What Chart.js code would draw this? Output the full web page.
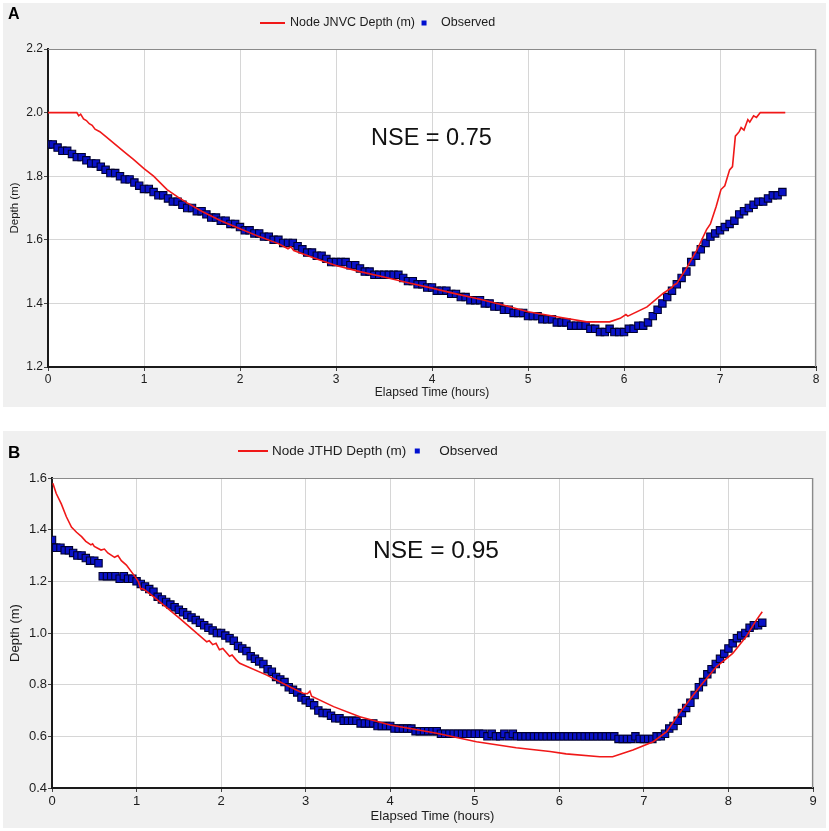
<!DOCTYPE html>
<html><head><meta charset="utf-8">
<script src="https://cdn.jsdelivr.net/npm/chart.js@4.4.1/dist/chart.umd.min.js"></script>
<style>
html,body{margin:0;padding:0;background:#fff;width:829px;height:831px;overflow:hidden}
.panel{position:absolute;left:3px;width:823px;background:#f0f0f0}
#pA{top:3px;height:404px}
#pB{top:431px;height:397px}
canvas{display:block}
</style></head><body>
<div class="panel" id="pA"><canvas id="cA" width="823" height="404" style="width:823px;height:404px"></canvas></div>
<div class="panel" id="pB"><canvas id="cB" width="823" height="397" style="width:823px;height:397px"></canvas></div>
<script>
// ---------- Panel A data ----------
const modelTimeA = [0,0.30,0.32,0.34,0.37,0.40,0.43,0.46,0.49,0.54,0.6,0.7,0.8,0.89,1.0,1.1,1.24,1.35,1.45,1.6,1.8,2.0,2.2,2.4,2.5,2.53,2.56,2.8,3.0,3.25,3.5,3.75,4.0,4.25,4.5,4.75,5.0,5.3,5.61,5.85,5.96,6.02,6.04,6.24,6.41,6.5,6.52,6.55,6.65,6.76,6.86,6.9,6.96,7.01,7.05,7.1,7.13,7.16,7.2,7.22,7.25,7.29,7.31,7.35,7.38,7.42,7.68];
const modelDepthA = [2.0,2.0,1.99,1.995,1.98,1.975,1.965,1.96,1.948,1.94,1.925,1.90,1.875,1.853,1.824,1.80,1.758,1.735,1.716,1.69,1.66,1.635,1.61,1.588,1.572,1.578,1.566,1.54,1.519,1.50,1.483,1.465,1.448,1.43,1.413,1.394,1.374,1.358,1.342,1.342,1.353,1.365,1.36,1.389,1.432,1.45,1.458,1.463,1.51,1.568,1.632,1.65,1.705,1.758,1.77,1.82,1.83,1.926,1.94,1.953,1.945,1.978,1.97,1.99,1.985,2.0,2.0];
const obsTimeA = [0,0.05,0.1,0.15,0.2,0.25,0.3,0.35,0.4,0.45,0.5,0.55,0.6,0.65,0.7,0.75,0.8,0.85,0.9,0.95,1.0,1.05,1.1,1.15,1.2,1.25,1.3,1.35,1.4,1.45,1.5,1.55,1.6,1.65,1.7,1.75,1.8,1.85,1.9,1.95,2.0,2.05,2.1,2.15,2.2,2.25,2.3,2.35,2.4,2.45,2.5,2.55,2.6,2.65,2.7,2.75,2.8,2.85,2.9,2.95,3.0,3.05,3.1,3.15,3.2,3.25,3.3,3.35,3.4,3.45,3.5,3.55,3.6,3.65,3.7,3.75,3.8,3.85,3.9,3.95,4.0,4.05,4.1,4.15,4.2,4.25,4.3,4.35,4.4,4.45,4.5,4.55,4.6,4.65,4.7,4.75,4.8,4.85,4.9,4.95,5.0,5.05,5.1,5.15,5.2,5.25,5.3,5.35,5.4,5.45,5.5,5.55,5.6,5.65,5.7,5.75,5.8,5.85,5.9,5.95,6.0,6.05,6.1,6.15,6.2,6.25,6.3,6.35,6.4,6.45,6.5,6.55,6.6,6.65,6.7,6.75,6.8,6.85,6.9,6.95,7.0,7.05,7.1,7.15,7.2,7.25,7.3,7.35,7.4,7.45,7.5,7.55,7.6,7.65];
const obsDepthA = [1.90,1.90,1.89,1.88,1.88,1.87,1.86,1.86,1.85,1.84,1.84,1.83,1.82,1.81,1.81,1.80,1.79,1.79,1.78,1.77,1.76,1.76,1.75,1.74,1.74,1.73,1.72,1.72,1.71,1.70,1.70,1.69,1.69,1.68,1.67,1.67,1.66,1.66,1.65,1.65,1.64,1.63,1.63,1.62,1.62,1.61,1.61,1.60,1.60,1.59,1.59,1.59,1.58,1.57,1.56,1.56,1.55,1.55,1.54,1.53,1.53,1.53,1.53,1.52,1.52,1.51,1.50,1.50,1.49,1.49,1.49,1.49,1.49,1.49,1.48,1.47,1.47,1.46,1.46,1.45,1.45,1.44,1.44,1.44,1.43,1.43,1.42,1.42,1.41,1.41,1.41,1.40,1.40,1.39,1.39,1.38,1.38,1.37,1.37,1.37,1.36,1.36,1.36,1.35,1.35,1.35,1.34,1.34,1.34,1.33,1.33,1.33,1.33,1.32,1.32,1.31,1.31,1.32,1.31,1.31,1.31,1.32,1.32,1.33,1.33,1.34,1.36,1.38,1.40,1.42,1.44,1.46,1.48,1.50,1.53,1.55,1.57,1.59,1.61,1.62,1.63,1.64,1.65,1.66,1.68,1.69,1.70,1.71,1.72,1.72,1.73,1.74,1.74,1.75];
const yTicksA = [1.2, 2.2];
// ---------- Panel B data ----------
const modelTimeB = [0.01,0.05,0.11,0.17,0.23,0.29,0.35,0.40,0.46,0.48,0.50,0.58,0.62,0.66,0.74,0.78,0.82,0.88,0.96,1.02,1.05,1.07,1.1,1.2,1.51,1.83,1.86,1.9,1.94,1.98,2.02,2.1,2.13,2.18,2.22,2.54,2.81,2.97,3.02,3.05,3.07,3.33,3.64,4.0,4.55,5.02,5.49,5.89,6.08,6.48,6.63,6.87,7.11,7.27,7.42,7.66,7.86,8.05,8.21,8.33,8.40];
const modelDepthB = [1.58,1.54,1.50,1.45,1.41,1.39,1.373,1.355,1.341,1.345,1.335,1.321,1.325,1.31,1.293,1.30,1.28,1.263,1.228,1.20,1.17,1.172,1.166,1.141,1.057,0.966,0.97,0.955,0.96,0.935,0.94,0.91,0.915,0.895,0.883,0.837,0.792,0.767,0.765,0.775,0.755,0.715,0.676,0.644,0.612,0.579,0.556,0.541,0.532,0.521,0.521,0.547,0.579,0.618,0.689,0.792,0.87,0.921,0.986,1.05,1.082];
const obsTimeB = [0,0.02,0.05,0.1,0.15,0.2,0.25,0.3,0.35,0.4,0.45,0.5,0.55,0.6,0.65,0.7,0.75,0.8,0.85,0.9,0.95,1.0,1.05,1.1,1.15,1.2,1.25,1.3,1.35,1.4,1.45,1.5,1.55,1.6,1.65,1.7,1.75,1.8,1.85,1.9,1.95,2.0,2.05,2.1,2.15,2.2,2.25,2.3,2.35,2.4,2.45,2.5,2.55,2.6,2.65,2.7,2.75,2.8,2.85,2.9,2.95,3.0,3.05,3.1,3.15,3.2,3.25,3.3,3.35,3.4,3.45,3.5,3.55,3.6,3.65,3.7,3.75,3.8,3.85,3.9,3.95,4.0,4.05,4.1,4.15,4.2,4.25,4.3,4.35,4.4,4.45,4.5,4.55,4.6,4.65,4.7,4.75,4.8,4.85,4.9,4.95,5.0,5.05,5.1,5.15,5.2,5.25,5.3,5.35,5.4,5.45,5.5,5.55,5.6,5.65,5.7,5.75,5.8,5.85,5.9,5.95,6.0,6.05,6.1,6.15,6.2,6.25,6.3,6.35,6.4,6.45,6.5,6.55,6.6,6.65,6.7,6.75,6.8,6.85,6.9,6.95,7.0,7.05,7.1,7.15,7.2,7.25,7.3,7.35,7.4,7.45,7.5,7.55,7.6,7.65,7.7,7.75,7.8,7.85,7.9,7.95,8.0,8.05,8.1,8.15,8.2,8.25,8.3,8.35,8.4];
const obsDepthB = [1.36,1.33,1.33,1.33,1.32,1.32,1.31,1.30,1.30,1.29,1.28,1.28,1.27,1.22,1.22,1.22,1.22,1.21,1.22,1.21,1.21,1.20,1.19,1.18,1.17,1.16,1.14,1.13,1.12,1.11,1.10,1.09,1.08,1.07,1.06,1.05,1.04,1.03,1.02,1.01,1.00,1.00,0.99,0.98,0.97,0.95,0.94,0.93,0.91,0.90,0.89,0.88,0.86,0.85,0.83,0.82,0.81,0.79,0.78,0.77,0.75,0.74,0.73,0.72,0.70,0.69,0.69,0.68,0.67,0.67,0.66,0.66,0.66,0.66,0.65,0.65,0.65,0.65,0.64,0.64,0.64,0.64,0.63,0.63,0.63,0.63,0.63,0.62,0.62,0.62,0.62,0.62,0.62,0.61,0.61,0.61,0.61,0.61,0.61,0.61,0.61,0.61,0.61,0.61,0.60,0.61,0.60,0.60,0.61,0.60,0.61,0.60,0.60,0.60,0.60,0.60,0.60,0.60,0.60,0.60,0.60,0.60,0.60,0.60,0.60,0.60,0.60,0.60,0.60,0.60,0.60,0.60,0.60,0.60,0.60,0.59,0.59,0.59,0.59,0.60,0.59,0.59,0.59,0.59,0.60,0.60,0.61,0.63,0.64,0.66,0.69,0.71,0.73,0.76,0.79,0.81,0.84,0.86,0.88,0.90,0.92,0.94,0.96,0.98,0.99,1.00,1.02,1.03,1.03,1.04];

const FONT = "'Liberation Sans', Arial, Helvetica, sans-serif";
const TXT = '#1c1c1c';

const decor = {
  id: 'decor',
  beforeDraw(chart) {
    const {ctx, chartArea: a} = chart;
    ctx.save();
    ctx.fillStyle = '#ffffff';
    ctx.fillRect(a.left, a.top, a.right - a.left, a.bottom - a.top);
    ctx.restore();
  },
  afterDraw(chart, args, o) {
    const {ctx, chartArea: a} = chart;
    ctx.save();
    // top / right frame
    ctx.strokeStyle = '#8a8a8a'; ctx.lineWidth = 1.2;
    ctx.beginPath();
    ctx.moveTo(a.left, a.top + 0.5); ctx.lineTo(a.right - 0.5, a.top + 0.5); ctx.lineTo(a.right - 0.5, a.bottom);
    ctx.stroke();
    // panel letter
    ctx.fillStyle = '#000'; ctx.font = o.letterFont; ctx.textBaseline = 'alphabetic'; ctx.textAlign = 'left';
    ctx.fillText(o.letter, o.letterX, o.letterY);
    // NSE annotation
    ctx.font = o.nseFont; ctx.fillStyle = '#111';
    ctx.fillText(o.nse, o.nseX, o.nseY);
    // legend
    const d0 = chart.data.datasets[0], d1 = chart.data.datasets[1];
    let x = o.legX; const y = o.legY;
    ctx.strokeStyle = d0.borderColor; ctx.lineWidth = 2;
    ctx.beginPath(); ctx.moveTo(x, y); ctx.lineTo(x + o.lineLen, y); ctx.stroke();
    x += o.lineLen + o.gap0;
    ctx.font = o.legFont; ctx.textBaseline = 'middle'; ctx.fillStyle = TXT;
    ctx.fillText(d0.label, x, y);
    x += ctx.measureText(d0.label).width + o.gap1;
    ctx.fillStyle = '#0010d0';
    ctx.fillRect(x - 2.5, y - 2.5, 5, 5);
    x += o.gap2;
    ctx.fillStyle = TXT;
    ctx.fillText(d1.label, x, y);
    ctx.restore();
  }
};

function build(id, p) {
  const model = p.modelT.map((t, i) => ({x: t, y: p.modelD[i]}));
  const obs = p.obsT.map((t, i) => ({x: t, y: p.obsD[i]}));
  const f = {family: FONT, size: p.fs};
  return new Chart(document.getElementById(id), {
    type: 'scatter',
    data: {datasets: [
      {label: p.modelLabel, data: model, showLine: true, borderColor: '#f01818', borderWidth: 1.6,
       pointRadius: 0, pointHoverRadius: 0, fill: false, order: 0},
      {label: 'Observed', data: obs, showLine: false, pointStyle: 'rect', pointRadius: 5.2, pointHoverRadius: 5.2,
       backgroundColor: '#0a12c8', borderColor: '#000030', borderWidth: 1.1, order: 1}
    ]},
    options: {
      responsive: false, animation: false, devicePixelRatio: 1,
      events: [],
      layout: {padding: {left: 0, right: p.padR, top: p.padT, bottom: 0}},
      plugins: {legend: {display: false}, tooltip: {enabled: false}, decor: p.decor},
      scales: {
        x: {type: 'linear', min: 0, max: p.xMax,
          afterFit: s => { s.height = 40; },
          ticks: {stepSize: 1, font: f, color: TXT, padding: p.xTickPad, maxRotation: 0, autoSkip: false,
                  callback: v => String(v)},
          grid: {color: '#d6d6d6', lineWidth: 1, tickLength: 4, tickColor: '#444'},
          border: {color: '#1a1a1a', width: 2},
          title: {display: true, text: 'Elapsed Time (hours)', font: f, color: TXT,
                  padding: {top: 0, bottom: p.xTitlePad}}},
        y: {type: 'linear', min: p.yTicks[0], max: p.yTicks[1],
          afterFit: s => { s.width = p.yW; },
          ticks: {stepSize: 0.2, font: f, color: TXT, padding: 1, callback: v => Number(v).toFixed(1)},
          grid: {color: '#d6d6d6', lineWidth: 1, tickLength: 4, tickColor: '#444'},
          border: {color: '#1a1a1a', width: 2},
          title: {display: true, text: 'Depth (m)', font: {family: FONT, size: p.fsY}, color: TXT,
                  padding: {top: p.yTitlePad, bottom: 0}}}
      }
    },
    plugins: [decor]
  });
}

build('cA', {
  modelT: modelTimeA, modelD: modelDepthA, obsT: obsTimeA, obsD: obsDepthA,
  modelLabel: 'Node JNVC Depth (m)', xMax: 8, yTicks: yTicksA,
  fs: 12, fsY: 11.5, padR: 10, padT: 46, yW: 45, xTickPad: 1, xTitlePad: 7, yTitlePad: 5,
  decor: {letter: 'A', letterFont: 'bold 16px ' + FONT, letterX: 5, letterY: 16,
          nse: 'NSE = 0.75', nseFont: '23.5px ' + FONT, nseX: 368, nseY: 142,
          legX: 257, legY: 20, lineLen: 25, gap0: 5, gap1: 9, gap2: 17, legFont: '12.5px ' + FONT}
});

build('cB', {
  modelT: modelTimeB, modelD: modelDepthB, obsT: obsTimeB, obsD: obsDepthB,
  modelLabel: 'Node JTHD Depth (m)', xMax: 9, yTicks: [0.4, 1.6],
  fs: 13, fsY: 13, padR: 13, padT: 47, yW: 49, xTickPad: 2, xTitlePad: 4, yTitlePad: 5,
  decor: {letter: 'B', letterFont: 'bold 17px ' + FONT, letterX: 5, letterY: 27,
          nse: 'NSE = 0.95', nseFont: '24.5px ' + FONT, nseX: 370, nseY: 127,
          legX: 235, legY: 20, lineLen: 30, gap0: 4, gap1: 11, gap2: 22, legFont: '13.5px ' + FONT}
});
</script>
</body></html>
